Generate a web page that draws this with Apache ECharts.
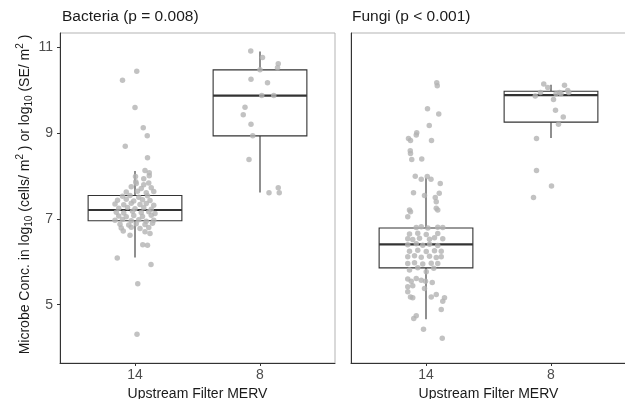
<!DOCTYPE html>
<html><head><meta charset="utf-8">
<script src="https://cdn.jsdelivr.net/npm/echarts@6/dist/echarts.min.js"></script>
<style>html,body{margin:0;padding:0;background:#fff}#c{width:625px;height:399px}</style>
</head><body><div id="c"></div>
<script>
const categories = ["14", "8"];
const panelTitles = ["Bacteria (p = 0.008)", "Fungi (p < 0.001)"];
const xAxisTitle = "Upstream Filter MERV";
const yTicks = [5, 7, 9, 11];
// box stats per category: [lower whisker, Q1, median, Q3, upper whisker]
const bacteriaBox = [[6.10, 6.96, 7.21, 7.55, 8.12], [7.62, 8.94, 9.88, 10.48, 10.91]];
const fungiBox = [[4.66, 5.86, 6.41, 6.79, 7.96], [8.89, 9.26, 9.89, 9.98, 10.13]];
// jittered points: [horizontal jitter (category units), value]
const bacteria14 = [
  [0.014,10.45],[-0.10,10.24],[0.00,9.60],[0.066,9.13],[0.098,8.94],[-0.078,8.70],[0.10,8.43],
  [0.08,8.13],[0.114,8.08],[0.114,8.01],[0.004,7.99],[0.07,7.94],[0.006,7.87],
  [0.01,7.83],[0.07,7.80],[0.11,7.84],
  [-0.03,7.75],[0.05,7.71],[0.13,7.73],
  [-0.07,7.63],[0.02,7.65],[0.09,7.61],[0.15,7.64],
  [-0.10,7.53],[-0.04,7.55],[0.03,7.51],[0.10,7.54],
  [-0.14,7.44],[-0.07,7.46],[-0.01,7.42],[0.06,7.45],[0.12,7.43],
  [-0.16,7.35],[-0.09,7.33],[-0.03,7.37],[0.04,7.34],[0.09,7.36],[0.15,7.32],
  [-0.13,7.25],[-0.06,7.27],[0.00,7.24],[0.07,7.26],[0.13,7.23],
  [-0.15,7.16],[-0.09,7.14],[-0.02,7.18],[0.05,7.15],[0.11,7.17],[0.16,7.13],
  [-0.13,7.07],[-0.07,7.05],[-0.01,7.08],[0.06,7.06],[0.13,7.09],
  [-0.16,6.97],[-0.10,6.99],[-0.03,6.96],[0.03,6.98],[0.09,6.95],[0.15,6.97],
  [-0.12,6.88],[-0.05,6.86],[0.01,6.89],[0.08,6.87],[0.14,6.90],
  [-0.11,6.79],[-0.03,6.81],[0.04,6.78],[0.11,6.80],
  [-0.094,6.72],[-0.04,6.62],[0.08,6.70],[0.12,6.66],[0.062,6.40],[0.10,6.39],
  [-0.142,6.09],[0.128,5.94],[0.022,5.49],[0.016,4.31]
];
const bacteria8 = [
  [-0.074,10.92],[0.02,10.77],[0.146,10.62],[0.14,10.53],[0.00,10.48],[-0.072,10.26],[0.06,10.18],
  [0.014,9.88],[0.11,9.88],[-0.12,9.61],[-0.134,9.43],[-0.072,9.21],[-0.058,8.94],[-0.088,8.39],
  [0.072,7.61],[0.146,7.73],[0.154,7.61]
];
const fungi14 = [
  [0.086,10.18],[0.09,10.11],[0.012,9.57],[0.102,9.45],[0.026,9.18],[-0.074,9.01],[-0.078,8.96],
  [-0.14,8.88],[-0.124,8.83],[0.044,8.83],[-0.126,8.59],[-0.124,8.53],[-0.114,8.39],[-0.034,8.40],
  [-0.086,8.00],[-0.038,7.93],[0.01,7.99],[0.04,7.93],[0.114,7.83],[-0.10,7.61],[-0.012,7.55],
  [0.074,7.50],[0.106,7.60],
  [0.082,7.40],[0.082,7.25],[0.094,7.21],[-0.132,7.21],[-0.124,7.17],[-0.146,7.05],
  [-0.078,6.80],[-0.038,6.82],[0.015,6.79],[0.094,6.81],[0.134,6.80],
  [-0.132,6.65],[-0.066,6.67],[0.002,6.64],[0.094,6.66],
  [-0.146,6.54],[-0.106,6.52],[-0.052,6.55],[0.028,6.53],[0.068,6.56],[0.134,6.54],
  [-0.146,6.40],[-0.078,6.42],[-0.026,6.39],[0.028,6.41],[0.094,6.38],
  [-0.132,6.25],[-0.066,6.27],[0.002,6.24],[0.068,6.26],[0.122,6.25],
  [-0.146,6.12],[-0.092,6.14],[-0.038,6.11],[0.028,6.13],[0.082,6.10],[0.122,6.12],
  [-0.146,5.96],[-0.092,5.98],[-0.026,5.95],[0.042,5.97],[0.094,5.96],
  [-0.132,5.81],[-0.066,5.86],[0.002,5.77],[0.062,5.85],
  [-0.146,5.60],[-0.118,5.55],[-0.078,5.61],[-0.038,5.57],[-0.004,5.55],[0.05,5.52],
  [-0.146,5.42],[-0.106,5.44],[-0.012,5.38],[-0.146,5.30],[-0.124,5.18],[-0.106,5.16],
  [0.042,5.18],[0.082,5.24],[0.148,5.16],[0.134,5.08],[0.122,4.89],
  [-0.078,4.74],[-0.098,4.68],[-0.02,4.43],[0.13,4.22]
];
const fungi8 = [
  [-0.058,10.15],[-0.026,10.07],[0.108,10.12],[-0.084,9.95],[-0.126,9.87],[0.068,9.95],[0.08,9.92],
  [0.134,10.00],[0.142,9.95],[0.04,9.92],[0.02,9.79],[0.036,9.54],[0.098,9.38],[0.06,9.21],
  [-0.116,8.88],[-0.116,8.13],[0.004,7.77],[-0.14,7.50]
];

const FONT = 'Liberation Sans, Arial, Helvetica, sans-serif';
const boxData = (stats) => stats.map((s, i) => [i + 1].concat(s));
const ptsData = (pts, cat) => pts.map(p => [cat + p[0], p[1]]);

function renderBox(params, api) {
  const x = api.value(0);
  const lo = api.coord([x, api.value(1)]);
  const q1 = api.coord([x, api.value(2)]);
  const md = api.coord([x, api.value(3)]);
  const q3 = api.coord([x, api.value(4)]);
  const hi = api.coord([x, api.value(5)]);
  const w = api.size([0.75, 0])[0];
  const stroke = '#333333';
  return {
    type: 'group',
    children: [
      { type: 'line', shape: { x1: lo[0], y1: lo[1], x2: q1[0], y2: q1[1] }, style: { stroke, lineWidth: 1.1 } },
      { type: 'line', shape: { x1: q3[0], y1: q3[1], x2: hi[0], y2: hi[1] }, style: { stroke, lineWidth: 1.1 } },
      { type: 'rect', shape: { x: q3[0] - w / 2, y: q3[1], width: w, height: q1[1] - q3[1] }, style: { fill: '#ffffff', stroke, lineWidth: 1.1 } },
      { type: 'line', shape: { x1: md[0] - w / 2, y1: md[1], x2: md[0] + w / 2, y2: md[1] }, style: { stroke, lineWidth: 2.2 } }
    ]
  };
}

const yName = 'Microbe Conc. in log{s|10} (cells/ m{p|2} ) or log{s|10} (SE/ m{p|2} )';

function xAxisCfg(gi) {
  return {
    type: 'value', gridIndex: gi, min: 0.4, max: 2.6,
    name: xAxisTitle, nameLocation: 'middle', nameGap: 22,
    nameTextStyle: { fontFamily: FONT, fontSize: 14, color: '#1a1a1a' },
    axisLine: { show: true, lineStyle: { color: '#333333', width: 1 } },
    axisTick: { show: true, length: 3, lineStyle: { color: '#333333' }, customValues: [1, 2] },
    axisLabel: { show: true, customValues: [1, 2], formatter: v => categories[Math.round(v) - 1], fontFamily: FONT, fontSize: 14, color: '#4d4d4d', margin: 5 },
    splitLine: { show: false }
  };
}
function yAxisCfg(gi) {
  const first = gi === 0;
  return {
    type: 'value', gridIndex: gi, min: 3.64, max: 11.34,
    name: first ? yName : '', nameLocation: 'middle', nameGap: 25, nameRotate: 90,
    nameTextStyle: {
      fontFamily: FONT, fontSize: 14, color: '#1a1a1a', lineHeight: 19, padding: [0, 0, 0, 7],
      rich: {
        s: { fontFamily: FONT, fontSize: 10, color: '#1a1a1a', verticalAlign: 'bottom', lineHeight: 10 },
        p: { fontFamily: FONT, fontSize: 10, color: '#1a1a1a', verticalAlign: 'top', lineHeight: 10 }
      }
    },
    axisLine: { show: true, lineStyle: { color: '#333333', width: 1 } },
    axisTick: { show: first, length: 3, lineStyle: { color: '#333333' }, customValues: yTicks },
    axisLabel: { show: first, customValues: yTicks, fontFamily: FONT, fontSize: 14, color: '#4d4d4d', margin: 7 },
    splitLine: { show: false }
  };
}

const grids = [
  { left: 60, top: 33, width: 275, height: 330, outerBoundsMode: 'none', containLabel: false, show: true, borderColor: '#b3b3b3', borderWidth: 1, backgroundColor: '#fff' },
  { left: 351, top: 33, width: 275, height: 330, outerBoundsMode: 'none', containLabel: false, show: true, borderColor: '#b3b3b3', borderWidth: 1, backgroundColor: '#fff' }
];

const chart = echarts.init(document.getElementById('c'), null, { renderer: 'canvas' });
const pointStyle = { color: '#b3b3b3' };
const titleStyle = { fontFamily: FONT, fontSize: 15.5, fontWeight: 'normal', color: '#1a1a1a' };
chart.setOption({
  animation: false,
  backgroundColor: '#ffffff',
  title: [
    { text: panelTitles[0], left: 62, top: 9, padding: 0, textStyle: titleStyle },
    { text: panelTitles[1], left: 352, top: 9, padding: 0, textStyle: titleStyle }
  ],
  grid: grids,
  xAxis: [xAxisCfg(0), xAxisCfg(1)],
  yAxis: [yAxisCfg(0), yAxisCfg(1)],
  series: [
    { type: 'custom', xAxisIndex: 0, yAxisIndex: 0, renderItem: renderBox, data: boxData(bacteriaBox), z: 2 },
    { type: 'custom', xAxisIndex: 1, yAxisIndex: 1, renderItem: renderBox, data: boxData(fungiBox), z: 2 },
    { type: 'scatter', xAxisIndex: 0, yAxisIndex: 0, symbolSize: 5.5, itemStyle: pointStyle, data: ptsData(bacteria14, 1), z: 3 },
    { type: 'scatter', xAxisIndex: 0, yAxisIndex: 0, symbolSize: 5.5, itemStyle: pointStyle, data: ptsData(bacteria8, 2), z: 3 },
    { type: 'scatter', xAxisIndex: 1, yAxisIndex: 1, symbolSize: 5.5, itemStyle: pointStyle, data: ptsData(fungi14, 1), z: 3 },
    { type: 'scatter', xAxisIndex: 1, yAxisIndex: 1, symbolSize: 5.5, itemStyle: pointStyle, data: ptsData(fungi8, 2), z: 3 }
  ]
});
</script>
</body></html>
